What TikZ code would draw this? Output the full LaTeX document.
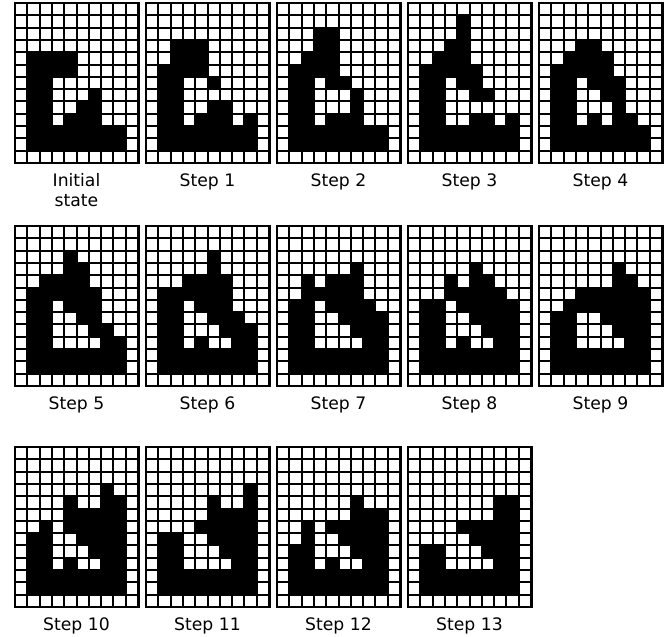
\documentclass[tikz,border=0pt]{standalone}
\usepackage{fontspec}
\setmainfont{DejaVu Sans}
\usetikzlibrary{math}

\newcommand{\cellw}{12.3}
% one state of the automaton: x, y of the top left corner, black runs row/from/to
\newcommand{\stategrid}[3]{%
\fill (#1-1.5,#2-1.5) rectangle (#1+10*\cellw+1.5,#2+13*\cellw+1.5);
\foreach \i in {0,...,9}{
  \foreach \j in {0,...,12}{
    \fill[white] (#1+\i*\cellw+1,#2+\j*\cellw+1) rectangle ++(\cellw-2,\cellw-2);
  }
}
\foreach \r/\a/\b in {#3}{
  \fill (#1+\a*\cellw,#2+\r*\cellw) rectangle (#1+\b*\cellw+\cellw,#2+\r*\cellw+\cellw);
}
}

\begin{document}
\begin{tikzpicture}[x=1pt,y=-1pt,
  lbl/.style={inner sep=0, anchor=base, font=\fontsize{17.2}{20}\selectfont}]
\tikzmath{
\xa=15; \xb=146; \xc=277; \xd=408; \xe=539;
\ya=3; \yb=226; \yc=447;
\hw=61.5;
}
\useasboundingbox (0,0) rectangle (672,637);

% first row
\stategrid{\xa}{\ya}{4/1/4, 5/1/4, 6/1/2, 7/1/2, 7/6/6, 8/1/2, 8/5/6, 9/1/2, 9/4/6, 10/1/8, 11/1/8}
\stategrid{\xb}{\ya}{3/2/4, 4/2/4, 5/1/4, 6/1/2, 6/5/5, 7/1/2, 8/1/2, 8/5/6, 9/1/2, 9/4/6, 9/8/8, 10/1/8, 11/1/8}
\stategrid{\xc}{\ya}{2/3/4, 3/3/4, 4/2/4, 5/1/4, 6/1/2, 6/4/5, 7/1/2, 7/6/6, 8/1/2, 8/6/6, 9/1/2, 9/4/6, 10/1/8, 11/1/8}
\stategrid{\xd}{\ya}{1/4/4, 2/4/4, 3/3/4, 4/2/4, 5/1/5, 6/1/2, 6/4/5, 7/1/2, 7/5/6, 8/1/2, 9/1/2, 9/5/6, 9/8/8, 10/1/8, 11/1/8}
\stategrid{\xe}{\ya}{3/3/4, 4/2/5, 5/1/5, 6/1/2, 6/4/6, 7/1/2, 7/5/6, 8/1/2, 8/6/6, 9/1/2, 9/4/4, 9/6/7, 10/1/8, 11/1/8}

% second row
\stategrid{\xa}{\yb}{2/4/4, 3/4/5, 4/2/5, 5/1/6, 6/1/2, 6/4/6, 7/1/2, 7/5/6, 8/1/2, 8/6/7, 9/1/2, 9/7/8, 10/1/8, 11/1/8}
\stategrid{\xb}{\yb}{2/5/5, 3/5/5, 4/3/6, 5/1/6, 6/1/2, 6/4/6, 7/1/2, 7/5/7, 8/1/2, 8/6/8, 9/1/2, 9/4/4, 9/7/8, 10/1/8, 11/1/8}
\stategrid{\xc}{\yb}{3/6/6, 4/2/2, 4/4/6, 5/2/6, 6/1/2, 6/4/7, 7/1/2, 7/5/8, 8/1/2, 8/6/8, 9/1/2, 9/7/8, 10/1/8, 11/1/8}
\stategrid{\xd}{\yb}{3/5/5, 4/3/3, 4/5/6, 5/3/7, 6/1/2, 6/4/8, 7/1/2, 7/5/8, 8/1/2, 8/6/8, 9/1/2, 9/4/4, 9/7/8, 10/1/8, 11/1/8}
\stategrid{\xe}{\yb}{3/6/6, 4/6/7, 5/3/8, 6/2/8, 7/1/2, 7/5/8, 8/1/2, 8/6/8, 9/1/2, 9/7/8, 10/1/8, 11/1/8}

% third row
\stategrid{\xa}{\yc}{3/7/7, 4/4/4, 4/7/8, 5/4/8, 6/2/2, 6/4/8, 7/1/2, 7/5/8, 8/1/2, 8/6/8, 9/1/2, 9/4/4, 9/7/8, 10/1/8, 11/1/8}
\stategrid{\xb}{\yc}{3/8/8, 4/5/5, 4/8/8, 5/5/8, 6/4/8, 7/1/2, 7/5/8, 8/1/2, 8/6/8, 9/1/2, 9/7/8, 10/1/8, 11/1/8}
\stategrid{\xc}{\yc}{4/6/6, 5/6/8, 6/2/2, 6/4/8, 7/2/2, 7/5/8, 8/1/2, 8/6/8, 9/1/2, 9/4/4, 9/7/8, 10/1/8, 11/1/8}
\stategrid{\xd}{\yc}{4/7/8, 5/7/8, 6/4/8, 7/5/8, 8/1/2, 8/6/8, 9/1/2, 9/7/8, 10/1/8, 11/1/8}

% labels
\node[lbl, anchor=north, align=center] (lab0) at (\xa+\hw,173) {Initial\\state};
\node[lbl] (lab1) at (\xb+\hw,186) {Step 1};
\node[lbl] (lab2) at (\xc+\hw,186) {Step 2};
\node[lbl] (lab3) at (\xd+\hw,186) {Step 3};
\node[lbl] (lab4) at (\xe+\hw,186) {Step 4};
\node[lbl] (lab5) at (\xa+\hw,409) {Step 5};
\node[lbl] (lab6) at (\xb+\hw,409) {Step 6};
\node[lbl] (lab7) at (\xc+\hw,409) {Step 7};
\node[lbl] (lab8) at (\xd+\hw,409) {Step 8};
\node[lbl] (lab9) at (\xe+\hw,409) {Step 9};
\node[lbl] (lab10) at (\xa+\hw,630) {Step 10};
\node[lbl] (lab11) at (\xb+\hw,630) {Step 11};
\node[lbl] (lab12) at (\xc+\hw,630) {Step 12};
\node[lbl] (lab13) at (\xd+\hw,630) {Step 13};
\end{tikzpicture}
\end{document}
